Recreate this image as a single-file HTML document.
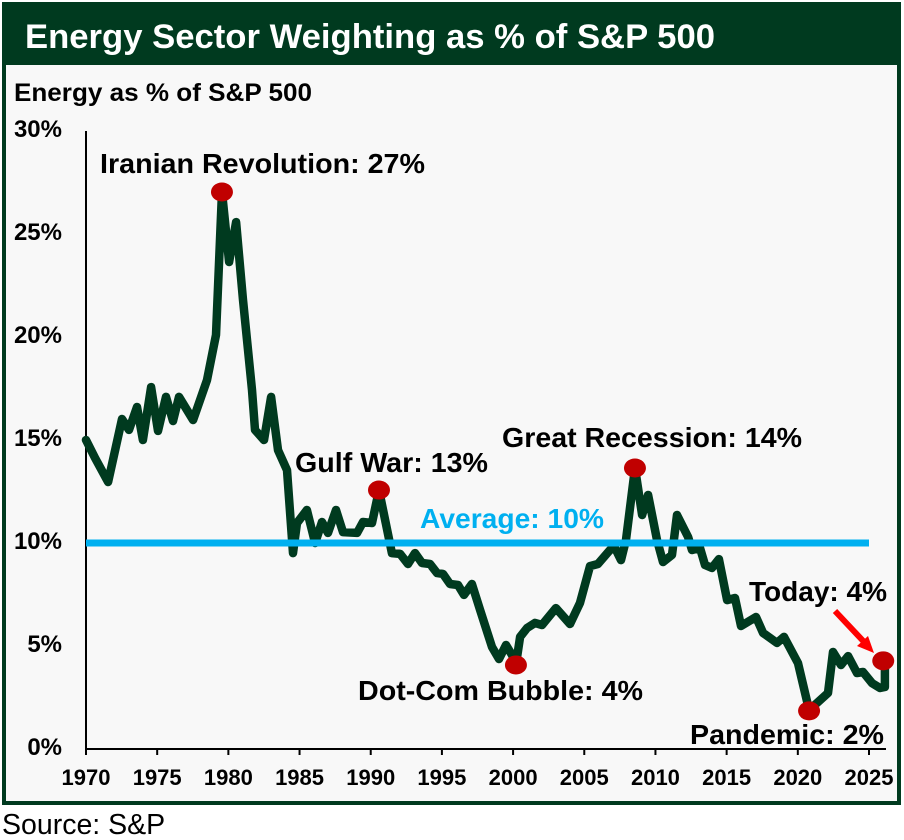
<!DOCTYPE html>
<html lang="en">
<head>
<meta charset="utf-8">
<title>Energy Sector Weighting as % of S&amp;P 500</title>
<style>
html,body{margin:0;padding:0;background:#fff;}
svg{display:block;font-family:"Liberation Sans",Arial,sans-serif;}
text{font-weight:700;fill:#000;}
</style>
</head>
<body>
<svg id="chart" width="904" height="840" viewBox="0 0 904 840" xmlns="http://www.w3.org/2000/svg">
  <rect x="0" y="0" width="904" height="840" fill="#ffffff"/>
  <rect x="4" y="4" width="895" height="799" fill="#f8f8f8" stroke="#003a1f" stroke-width="4"/>
  <rect x="2" y="2" width="899" height="63" fill="#003a1f"/>
  <text x="25" y="48" font-size="34" textLength="690" lengthAdjust="spacingAndGlyphs" style="fill:#ffffff">Energy Sector Weighting as % of S&amp;P 500</text>
  <text x="14" y="101" font-size="25" textLength="298" lengthAdjust="spacingAndGlyphs">Energy as % of S&amp;P 500</text>
  <g id="axes"></g>
  <g id="marks"></g>
  <text x="100" y="173" font-size="27.5" textLength="325" lengthAdjust="spacingAndGlyphs">Iranian Revolution: 27%</text>
  <text x="295" y="472" font-size="27.5" textLength="193" lengthAdjust="spacingAndGlyphs">Gulf War: 13%</text>
  <text x="502" y="447" font-size="27.5" textLength="300" lengthAdjust="spacingAndGlyphs">Great Recession: 14%</text>
  <text x="420" y="528" font-size="27.5" textLength="184" lengthAdjust="spacingAndGlyphs" style="fill:#00b0f0">Average: 10%</text>
  <text x="358" y="700" font-size="27.5" textLength="285" lengthAdjust="spacingAndGlyphs">Dot-Com Bubble: 4%</text>
  <text x="749" y="601" font-size="27.5" textLength="138" lengthAdjust="spacingAndGlyphs">Today: 4%</text>
  <text x="690" y="744" font-size="27.5" textLength="194" lengthAdjust="spacingAndGlyphs">Pandemic: 2%</text>
  <g>
    <line x1="835" y1="611" x2="866" y2="644" stroke="#ff0000" stroke-width="6"/>
    <polygon points="874,653 857,646 868,636" fill="#ff0000"/>
  </g>
  <text x="2" y="834" font-size="28.5" style="font-weight:400">Source: S&amp;P</text>
</svg>
<script>
const years = [1970,1970.63,1971.55,1972.53,1973.02,1973.58,1974,1974.57,1975.06,1975.62,1976.11,1976.53,1977.52,1978.5,1979.13,1979.55,1980.05,1980.54,1981.03,1981.66,1981.87,1982.5,1983,1983.49,1984.12,1984.54,1984.82,1985.52,1986.09,1986.58,1987,1987.56,1988.05,1989.04,1989.46,1990.09,1990.58,1991.49,1992.06,1992.62,1993.11,1993.6,1994.16,1994.66,1995.08,1995.57,1996.13,1996.55,1997.11,1997.68,1998.52,1999.01,1999.5,1999.92,2000.2,2000.49,2000.98,2001.54,2002.03,2003.01,2004,2004.7,2005.4,2005.96,2006.81,2007.16,2007.58,2007.93,2008.56,2009.06,2009.48,2010.11,2010.53,2011.16,2011.51,2012.29,2012.57,2013.13,2013.48,2013.97,2014.46,2015.03,2015.59,2016.01,2017.06,2017.56,2018.54,2019.03,2020.01,2020.79,2022.12,2022.47,2023.03,2023.53,2024.16,2024.58,2025.21,2025.77,2026.12,2026.12];
const energyWeight = [15,14.13,12.96,16.02,15.49,16.6,15,17.57,15.44,17.09,15.92,17.09,15.97,17.91,20.1,27.04,23.64,25.58,21.8,17.43,15.49,15,17.09,14.51,13.54,9.51,10.97,11.6,10,11.02,10.49,11.6,10.53,10.49,11.02,10.97,12.57,9.51,9.47,8.98,9.51,9.03,8.98,8.54,8.5,8.01,7.96,7.48,8.01,6.75,4.95,4.37,5.05,4.56,4.08,5.44,5.87,6.12,6.02,6.84,6.07,7.09,8.88,8.98,9.66,9.76,9.17,10.15,13.64,11.36,12.33,10.15,9.08,9.42,11.36,10.29,9.66,9.76,8.93,8.79,9.22,7.23,7.33,5.97,6.41,5.63,5.15,5.44,4.17,1.89,2.72,4.71,4.08,4.51,3.69,3.74,3.2,2.96,3.01,4.32];
const eventNames = ["iranian-revolution","gulf-war","dot-com-bubble","great-recession","pandemic","today"];
const eventYears = [1979.55,1990.58,2000.2,2008.56,2020.79,2026];
const eventValues = [27.04,12.57,4.08,13.64,1.85,4.28];
const averageValue = [10];
const averageYears = [1970,2025];
const yTickValues = [0,5,10,15,20,25,30];
const yTickLabels = ["0%","5%","10%","15%","20%","25%","30%"];
const xTickYears = [1970,1975,1980,1985,1990,1995,2000,2005,2010,2015,2020,2025];
const xTickLabels = ["1970","1975","1980","1985","1990","1995","2000","2005","2010","2015","2020","2025"];

const NS = "http://www.w3.org/2000/svg";
const plotLeft = 86, plotBottom = 749, plotTop = 131, plotEnd = 886;
function xScale(year) { return plotLeft + (year - 1970) * (783 / 55); }
function yScale(value) { return plotBottom - value * ((plotBottom - plotTop) / 30); }
function make(tag, attrs, parent) {
  const el = document.createElementNS(NS, tag);
  for (const k in attrs) el.setAttribute(k, attrs[k]);
  parent.appendChild(el);
  return el;
}
const axes = document.getElementById("axes");
const marks = document.getElementById("marks");

const yAxis = make("line", {x1: plotLeft, x2: plotLeft, y1: plotTop, y2: plotBottom + 6, stroke: "#000", "stroke-width": 2}, axes);


const xAxis = make("line", {x1: plotLeft - 1, x2: plotEnd, y1: plotBottom, y2: plotBottom, stroke: "#000", "stroke-width": 2}, axes);



yTickValues.forEach((v, i) => {
  const t = make("text", {x: 62, y: yScale(v) + 6, "font-size": 24, "text-anchor": "end"}, axes);
  t.textContent = yTickLabels[i];
  
  
});
xTickYears.forEach((yr, i) => {
  const x = xScale(yr);
  const tick = make("line", {x1: x, x2: x, y1: plotBottom, y2: plotBottom + 6, stroke: "#000", "stroke-width": 2}, axes);
  
  
  const t = make("text", {x: x, y: 785, "font-size": 22, "text-anchor": "middle"}, axes);
  t.textContent = xTickLabels[i];
  
  
});

const pts = years.map((yr, i) => xScale(yr).toFixed(1) + "," + yScale(energyWeight[i]).toFixed(1)).join(" ");
const series = make("polyline", {points: pts, fill: "none", stroke: "#003a1f", "stroke-width": 8.5, "stroke-linejoin": "round", "stroke-linecap": "round"}, marks);



const avg = make("line", {x1: xScale(averageYears[0]), x2: xScale(averageYears[1]), y1: yScale(averageValue[0]), y2: yScale(averageValue[0]), stroke: "#00b0f0", "stroke-width": 7}, marks);



eventYears.forEach((yr, i) => {
  const dot = make("ellipse", {cx: xScale(yr), cy: yScale(eventValues[i]), rx: 11, ry: 9.5, fill: "#c00000"}, marks);
  
  
});
</script>
</body>
</html>
